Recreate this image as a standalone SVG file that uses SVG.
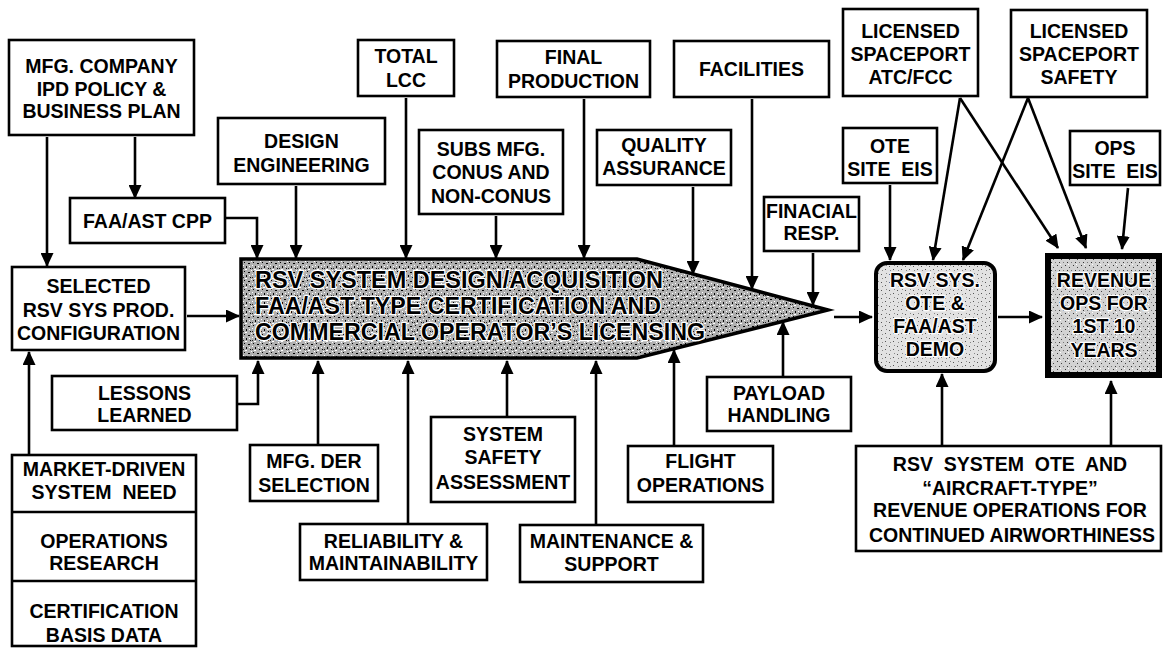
<svg xmlns="http://www.w3.org/2000/svg" width="1163" height="648" viewBox="0 0 1163 648">
<style>
.box{fill:#fff;stroke:#000;stroke-width:2.6}
.t{font-family:"Liberation Sans",Arial,sans-serif;font-weight:bold;font-size:19.5px;fill:#000;text-anchor:middle}
.halo{paint-order:stroke;stroke:#fff;stroke-width:2.5;stroke-linejoin:round}
.big{font-family:"Liberation Sans",Arial,sans-serif;font-weight:bold;font-size:24px;fill:#000}
.c{fill:none;stroke:#000;stroke-width:2.6;marker-end:url(#ah)}
</style>
<defs>
<marker id="ah" markerUnits="userSpaceOnUse" markerWidth="14" markerHeight="13" refX="13" refY="6.5" orient="auto">
<path d="M0,0 L14,6.5 L0,13 z" fill="#000"/>
</marker>
<pattern id="stipD" width="9" height="9" patternUnits="userSpaceOnUse">
<rect width="9" height="9" fill="#b0b0b0"/>
<rect x="1" y="1" width="1" height="1" fill="#000"/><rect x="5" y="2" width="2" height="1" fill="#000"/>
<rect x="3" y="5" width="1" height="2" fill="#000"/><rect x="7" y="7" width="1" height="1" fill="#000"/>
<rect x="0" y="7" width="1" height="1" fill="#222"/>
<rect x="0" y="4" width="1" height="1" fill="#fff"/><rect x="6" y="5" width="1" height="1" fill="#fff"/>
<rect x="2" y="8" width="2" height="1" fill="#fff"/><rect x="8" y="0" width="1" height="1" fill="#fff"/>
</pattern>
<pattern id="stipL" width="8" height="8" patternUnits="userSpaceOnUse">
<rect width="8" height="8" fill="#e2e2e2"/>
<rect x="1" y="2" width="1" height="1" fill="#555"/><rect x="5" y="5" width="1" height="1" fill="#555"/>
<rect x="6" y="1" width="1" height="1" fill="#888"/><rect x="2" y="6" width="1" height="1" fill="#888"/>
</pattern>
<pattern id="stipM" width="8" height="8" patternUnits="userSpaceOnUse">
<rect width="8" height="8" fill="#d2d2d2"/>
<rect x="1" y="1" width="1" height="1" fill="#333"/><rect x="5" y="3" width="1" height="1" fill="#444"/>
<rect x="3" y="6" width="1" height="1" fill="#333"/><rect x="7" y="6" width="1" height="1" fill="#777"/>
<rect x="4" y="0" width="1" height="1" fill="#fff"/>
</pattern>
</defs>

<g id="connectors">
<path class="c" d="M47,137 V266"/>
<path class="c" d="M135,137 V198"/>
<path class="c" d="M226,218 H257 V258"/>
<path class="c" d="M296,186 V258"/>
<path class="c" d="M406,98 V258"/>
<path class="c" d="M496,216 V258"/>
<path class="c" d="M584,99 V258"/>
<path class="c" d="M693,187 V274"/>
<path class="c" d="M752,99 V289"/>
<path class="c" d="M813,253 V305"/>
<path class="c" d="M187,316 H239"/>
<path class="c" d="M834,317 H872"/>
<path class="c" d="M998,317 H1042"/>
<path class="c" d="M890,185 V260"/>
<path class="c" d="M1128,188 L1122,249"/>
<path class="c" d="M960,98 L933,260"/>
<path class="c" d="M960,98 L1058,248"/>
<path class="c" d="M1028,98 L963,260"/>
<path class="c" d="M1028,98 L1086,248"/>
<path class="c" d="M238,404 H258 V361"/>
<path class="c" d="M318,444 V361"/>
<path class="c" d="M408,523 V361"/>
<path class="c" d="M507,416 V361"/>
<path class="c" d="M596,524 V361"/>
<path class="c" d="M674,445 V350"/>
<path class="c" d="M783,376 V322"/>
<path class="c" d="M29,454 V352"/>
<path class="c" d="M942,445 V374"/>
<path class="c" d="M1111,445 V381"/>
</g>

<g id="main">
<path d="M241,259 H637 L828,310 L637,358 H241 Z" fill="url(#stipD)" stroke="#000" stroke-width="3.5" stroke-linejoin="miter"/>
<text class="big halo" x="255" y="288" textLength="408" lengthAdjust="spacingAndGlyphs">RSV SYSTEM DESIGN/ACQUISITION</text>
<text class="big halo" x="255" y="314" textLength="406" lengthAdjust="spacingAndGlyphs">FAA/AST TYPE CERTIFICATION AND</text>
<text class="big halo" x="255" y="340" textLength="450" lengthAdjust="spacingAndGlyphs">COMMERCIAL OPERATOR’S LICENSING</text>
</g>

<g id="mfg-company">
<rect class="box" x="9" y="40" width="185" height="95"/>
<text class="t" x="101.5" y="73">MFG. COMPANY</text>
<text class="t" x="101.5" y="96">IPD POLICY &amp;</text>
<text class="t" x="101.5" y="118">BUSINESS PLAN</text>
</g>
<g id="design-eng">
<rect class="box" x="218" y="118" width="167" height="66"/>
<text class="t" x="301.5" y="148">DESIGN</text>
<text class="t" x="301.5" y="172">ENGINEERING</text>
</g>
<g id="faa-cpp">
<rect class="box" x="70" y="198" width="155" height="45"/>
<text class="t" x="147.5" y="228">FAA/AST CPP</text>
</g>
<g id="selected">
<rect class="box" x="12" y="267" width="173" height="83"/>
<text class="t" x="98.5" y="293">SELECTED</text>
<text class="t" x="98.5" y="317">RSV SYS PROD.</text>
<text class="t" x="98.5" y="340">CONFIGURATION</text>
</g>
<g id="total-lcc">
<rect class="box" x="358" y="40" width="96" height="56"/>
<text class="t" x="406" y="63">TOTAL</text>
<text class="t" x="406" y="87">LCC</text>
</g>
<g id="subs-mfg">
<rect class="box" x="419" y="130" width="144" height="84"/>
<text class="t" x="491" y="156">SUBS MFG.</text>
<text class="t" x="491" y="179">CONUS AND</text>
<text class="t" x="491" y="203">NON-CONUS</text>
</g>
<g id="final-production">
<rect class="box" x="497" y="41" width="153" height="56"/>
<text class="t" x="573.5" y="64">FINAL</text>
<text class="t" x="573.5" y="88">PRODUCTION</text>
</g>
<g id="quality">
<rect class="box" x="597" y="130" width="134" height="55"/>
<text class="t" x="664" y="152">QUALITY</text>
<text class="t" x="664" y="175">ASSURANCE</text>
</g>
<g id="facilities">
<rect class="box" x="674" y="41" width="155" height="56"/>
<text class="t" x="751.5" y="76">FACILITIES</text>
</g>
<g id="finacial">
<rect class="box" x="764" y="197" width="95" height="54"/>
<text class="t" x="811.5" y="218">FINACIAL</text>
<text class="t" x="811.5" y="240">RESP.</text>
</g>
<g id="atc-fcc">
<rect class="box" x="843" y="9" width="135" height="87"/>
<text class="t" x="910.5" y="38">LICENSED</text>
<text class="t" x="910.5" y="61">SPACEPORT</text>
<text class="t" x="910.5" y="84">ATC/FCC</text>
</g>
<g id="spaceport-safety">
<rect class="box" x="1011" y="10" width="136" height="87"/>
<text class="t" x="1079" y="38">LICENSED</text>
<text class="t" x="1079" y="61">SPACEPORT</text>
<text class="t" x="1079" y="84">SAFETY</text>
</g>
<g id="ote-site">
<rect class="box" x="843" y="128" width="94" height="55"/>
<text class="t" x="890" y="153">OTE</text>
<text class="t" x="890" y="176" xml:space="preserve">SITE  EIS</text>
</g>
<g id="ops-site">
<rect class="box" x="1070" y="131" width="90" height="54"/>
<text class="t" x="1115" y="155">OPS</text>
<text class="t" x="1115" y="178" xml:space="preserve">SITE  EIS</text>
</g>
<g id="demo">
<rect x="876" y="263" width="119" height="108" rx="11" fill="url(#stipL)" stroke="#000" stroke-width="4"/>
<text class="t halo" x="935" y="287" font-size="20">RSV SYS.</text>
<text class="t halo" x="935" y="310" font-size="20">OTE &amp;</text>
<text class="t halo" x="935" y="333" font-size="20">FAA/AST</text>
<text class="t halo" x="935" y="356" font-size="20">DEMO</text>
</g>
<g id="revenue">
<rect x="1048" y="256" width="111" height="119" fill="url(#stipM)" stroke="#000" stroke-width="6"/>
<text class="t halo" x="1104" y="287" font-size="21">REVENUE</text>
<text class="t halo" x="1104" y="310" font-size="21">OPS FOR</text>
<text class="t halo" x="1104" y="333" font-size="21">1ST 10</text>
<text class="t halo" x="1104" y="357" font-size="21">YEARS</text>
</g>
<g id="lessons">
<rect class="box" x="52" y="376" width="185" height="54"/>
<text class="t" x="144.5" y="400">LESSONS</text>
<text class="t" x="144.5" y="422">LEARNED</text>
</g>
<g id="market-stack">
<rect class="box" x="12" y="455" width="184" height="191"/>
<line x1="12" y1="512" x2="196" y2="512" stroke="#000" stroke-width="2.6"/>
<line x1="12" y1="581" x2="196" y2="581" stroke="#000" stroke-width="2.6"/>
<text class="t" x="104" y="476">MARKET-DRIVEN</text>
<text class="t" x="104" y="499" xml:space="preserve">SYSTEM  NEED</text>
<text class="t" x="104" y="548">OPERATIONS</text>
<text class="t" x="104" y="570">RESEARCH</text>
<text class="t" x="104" y="618">CERTIFICATION</text>
<text class="t" x="104" y="642">BASIS DATA</text>
</g>
<g id="mfg-der">
<rect class="box" x="250" y="445" width="128" height="56"/>
<text class="t" x="314" y="468">MFG. DER</text>
<text class="t" x="314" y="492">SELECTION</text>
</g>
<g id="reliability">
<rect class="box" x="300" y="524" width="187" height="56"/>
<text class="t" x="393.5" y="548">RELIABILITY &amp;</text>
<text class="t" x="393.5" y="570">MAINTAINABILITY</text>
</g>
<g id="system-safety">
<rect class="box" x="431" y="417" width="144" height="85"/>
<text class="t" x="503" y="441">SYSTEM</text>
<text class="t" x="503" y="464">SAFETY</text>
<text class="t" x="503" y="489">ASSESSMENT</text>
</g>
<g id="maintenance">
<rect class="box" x="520" y="525" width="183" height="57"/>
<text class="t" x="611.5" y="548">MAINTENANCE &amp;</text>
<text class="t" x="611.5" y="571">SUPPORT</text>
</g>
<g id="flight-ops">
<rect class="box" x="628" y="446" width="145" height="56"/>
<text class="t" x="700.5" y="468">FLIGHT</text>
<text class="t" x="700.5" y="492">OPERATIONS</text>
</g>
<g id="payload">
<rect class="box" x="707" y="377" width="144" height="54"/>
<text class="t" x="779" y="400">PAYLOAD</text>
<text class="t" x="779" y="422">HANDLING</text>
</g>
<g id="continued-airworthiness">
<rect class="box" x="856" y="446" width="305" height="105"/>
<text class="t" x="1010" y="471" xml:space="preserve">RSV  SYSTEM  OTE  AND</text>
<text class="t" x="1010" y="495">“AIRCRAFT-TYPE”</text>
<text class="t" x="1010" y="517">REVENUE OPERATIONS FOR</text>
<text class="t" x="1012" y="542">CONTINUED AIRWORTHINESS</text>
</g>
</svg>
